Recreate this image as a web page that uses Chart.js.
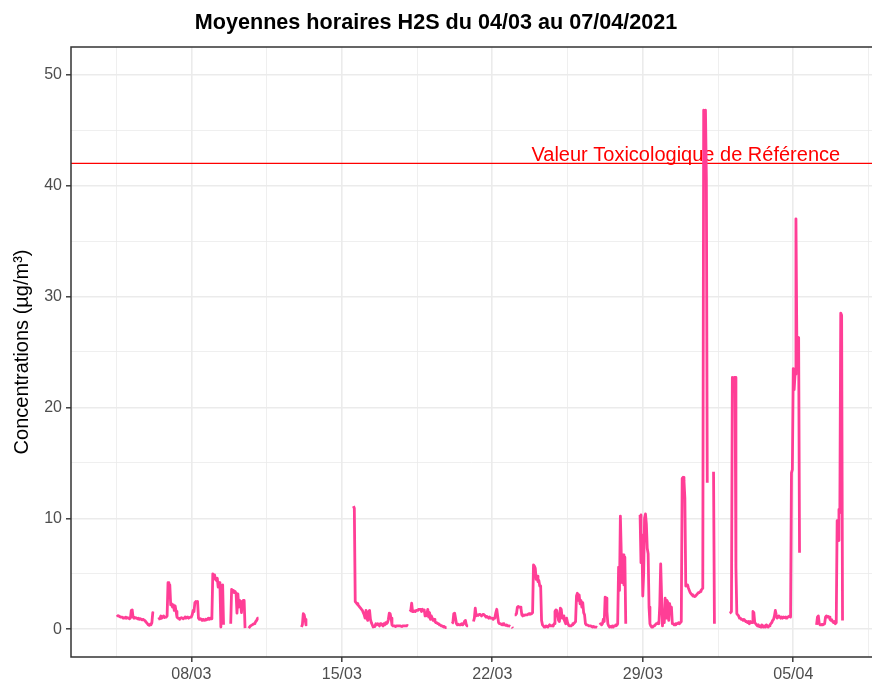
<!DOCTYPE html>
<html><head><meta charset="utf-8">
<script src="https://cdn.jsdelivr.net/npm/chart.js@4.4.1/dist/chart.umd.min.js"></script>
<style>html,body{margin:0;padding:0;background:#fff;}canvas{display:block;}</style>
</head><body>
<canvas id="c" width="872" height="684"></canvas>
<script>
// ---- Données ----
const titre = 'Moyennes horaires H2S du 04/03 au 07/04/2021';
const titreY = 'Concentrations (µg/m³)';
const valeurTox = 42;
const libelleTox = 'Valeur Toxicologique de Référence';
// heures comptées depuis le 04/03/2021 00:00
const heuresTicksX = [96, 264, 432, 600, 768];
const etiquettesX = ['08/03', '15/03', '22/03', '29/03', '05/04'];
const heuresMineuresX = [12, 180, 348, 516, 684, 852];
const ticksY = [0, 10, 20, 30, 40, 50];
const ticksMineursY = [5, 15, 25, 35, 45];
const n = null;
// moyennes horaires (µg/m³), une ligne par jour à partir du 04/03/2021 00:00
const valeurs = [
/*04/03*/ n,n,n,n,n,n,n,n,n,n,n,n,n,1.3,1.2,1.2,1.15,1.1,1.1,1.1,1.0,1.05,1.0,1.1,
/*05/03*/ 1.0,1.05,1.0,0.95,1.0,1.7,1.75,1.1,1.0,1.0,1.05,1.0,0.95,1.0,0.9,0.95,0.9,0.85,0.9,0.85,0.8,0.7,0.6,0.5,
/*06/03*/ 0.4,0.35,0.45,0.4,0.6,1.5,1.45,n,n,n,n,0.9,0.95,1.0,1.2,1.0,1.1,1.2,1.05,1.1,1.1,1.2,4.2,4.1,
/*07/03*/ 4.0,2.2,2.3,2.0,2.2,1.7,2.1,1.6,1.1,1.0,1.0,0.9,1.0,1.05,1.0,0.95,1.0,1.1,1.0,1.05,1.1,1.0,1.05,1.1,
/*08/03*/ 1.1,1.3,1.7,1.6,2.4,2.5,2.45,2.5,1.0,0.9,0.95,0.9,0.8,0.9,0.85,0.8,0.9,0.85,0.9,1.0,0.9,1.0,0.95,1.1,
/*09/03*/ 5.0,4.7,4.9,4.5,4.4,4.6,3.8,4.2,3.9,0.2,3.9,4.0,0.4,n,n,n,n,n,n,n,0.5,3.6,3.4,3.5,
/*10/03*/ 3.3,3.4,3.2,1.45,3.2,2.0,2.6,2.5,1.5,2.5,2.6,2.6,0.1,n,n,n,0.1,0.2,0.3,0.35,0.4,0.45,0.5,0.55,
/*11/03*/ 0.7,0.8,1.0,1.0,n,n,n,n,n,n,n,n,n,n,n,n,n,n,n,n,n,n,n,n,
/*12/03*/ n,n,n,n,n,n,n,n,n,n,n,n,n,n,n,n,n,n,n,n,n,n,n,n,
/*13/03*/ n,n,n,0.2,0.4,1.4,1.3,0.9,0.4,0.45,n,n,n,n,n,n,n,n,n,n,n,n,n,n,
/*14/03*/ n,n,n,n,n,n,n,n,n,n,n,n,n,n,n,n,n,n,n,n,n,n,n,n,
/*15/03*/ n,n,n,n,n,n,n,n,n,n,n,n,n,11.1,10.9,2.5,2.4,2.3,2.2,2.1,2.0,1.9,1.8,1.7,
/*16/03*/ 1.5,1.3,1.0,1.7,1.0,0.8,1.6,1.7,0.9,0.6,0.4,0.2,0.25,0.3,0.5,0.4,0.5,0.45,0.3,0.5,0.5,0.4,0.3,0.5,
/*17/03*/ 0.4,0.6,0.5,0.6,0.9,1.45,1.4,1.0,0.4,0.3,0.3,0.3,0.25,0.3,0.3,0.3,0.3,0.3,0.3,0.25,0.3,0.3,0.3,0.3,
/*18/03*/ 0.3,0.35,0.3,n,1.6,1.7,2.35,1.6,1.6,1.65,1.6,1.7,1.7,1.75,1.8,1.8,1.8,1.6,1.8,1.7,1.75,1.2,1.3,1.4,
/*19/03*/ 1.8,1.1,1.5,0.9,1.2,1.0,0.8,0.9,0.7,0.6,0.6,0.5,0.5,0.4,0.4,0.3,0.3,0.25,0.2,0.2,0.15,0.15,n,n,
/*20/03*/ n,n,n,0.5,0.6,1.4,1.45,1.0,0.5,0.4,0.45,0.4,0.4,0.45,0.5,0.4,0.5,0.7,0.8,0.4,0.3,0.3,n,n,
/*21/03*/ n,n,n,0.7,1.0,1.9,1.2,1.3,1.25,1.3,1.35,1.3,1.2,1.3,1.35,1.3,1.2,1.1,1.15,1.1,1.0,1.1,1.0,1.0,
/*22/03*/ 1.0,0.9,1.0,1.1,1.5,1.8,1.2,0.6,0.5,0.5,0.45,0.4,0.5,0.4,0.4,0.35,0.4,0.3,0.3,0.3,0.25,n,0.2,0.1,
/*23/03*/ n,1.3,1.3,1.4,2.0,2.05,2.0,2.0,1.9,1.3,1.2,1.3,1.25,1.3,1.3,1.3,1.35,1.4,1.35,1.4,1.4,1.5,5.8,5.7,
/*24/03*/ 5.5,4.5,4.8,4.3,4.4,3.9,3.9,0.8,0.4,0.3,0.2,0.2,0.3,0.3,0.2,0.3,0.4,0.3,0.3,0.35,0.3,0.5,1.6,1.75,
/*25/03*/ 1.7,1.2,0.8,0.7,1.9,1.8,1.0,1.2,0.9,0.7,0.5,1.0,0.6,0.4,0.3,0.3,0.3,0.4,0.5,0.5,0.6,0.7,3.0,3.25,
/*26/03*/ 2.6,3.1,2.3,2.6,2.0,2.4,1.5,1.3,0.5,0.4,0.4,0.35,0.3,0.3,0.3,0.25,0.2,0.25,0.2,0.2,0.2,0.15,n,n,
/*27/03*/ 0.4,0.5,0.4,0.5,0.9,0.7,2.9,2.8,1.6,0.5,0.3,0.2,0.25,0.2,0.3,0.2,0.3,0.3,0.4,0.35,0.5,5.6,3.5,10.2,
/*28/03*/ 6.8,4.2,6.7,4.0,6.5,0.5,n,n,n,n,n,n,n,n,n,n,n,n,n,n,n,10.3,6.0,8.5,
/*29/03*/ 3.0,5.0,10.0,10.4,9.5,7.3,6.8,2.0,0.5,0.3,0.2,0.2,0.3,0.3,0.4,0.5,0.5,0.6,0.5,2.2,5.9,3.0,0.3,1.7,
/*30/03*/ 0.6,2.8,1.0,2.6,2.4,0.8,2.3,1.5,2.0,0.5,0.5,0.4,0.4,0.5,0.5,0.5,0.6,0.5,0.6,0.7,13.6,13.7,13.4,11.8,
/*31/03*/ 3.9,4.0,4.0,3.7,3.5,3.3,3.2,3.1,3.0,3.0,2.95,3.0,3.1,3.2,3.3,3.3,3.4,3.5,3.6,3.7,46.8,46.7,46.8,40.6,
/*01/04*/ 13.2,n,n,n,n,n,n,14.2,0.5,n,n,n,n,n,n,n,n,n,n,n,n,n,n,n,
/*02/04*/ n,1.45,1.5,1.6,22.7,22.6,22.7,22.7,5.6,1.4,1.3,1.2,1.0,1.0,0.9,0.9,0.8,0.9,0.8,0.7,0.7,0.6,0.7,0.5,
/*03/04*/ 0.7,0.6,0.6,1.6,1.5,0.6,0.5,0.4,0.3,0.4,0.25,0.3,0.2,0.4,0.3,0.2,0.3,0.2,0.4,0.3,0.2,0.3,0.4,0.5,
/*04/04*/ 0.6,0.8,0.9,1.2,1.7,1.3,1.0,1.1,1.2,1.1,1.0,1.1,1.0,1.1,1.05,1.1,1.0,1.1,1.1,1.15,1.2,1.1,14.1,14.4,
/*05/04*/ 23.5,21.6,23.0,37.0,25.8,26.0,26.3,6.9,n,n,n,n,n,n,n,n,n,n,n,n,n,n,n,n,
/*06/04*/ n,n,0.4,1.1,1.2,0.5,0.4,0.4,0.45,0.4,0.45,0.5,1.1,1.2,1.1,1.15,1.1,0.9,0.8,0.85,0.7,0.6,0.7,0.5,
/*07/04*/ 0.6,9.8,8.0,10.8,10.5,28.5,28.3,0.8
];

// ---- Rendu ----
const FONT = "'Liberation Sans', Arial, sans-serif";
const points = valeurs.map((v, i) => ({ x: i, y: v }));
const ticksX = heuresTicksX.concat(heuresMineuresX).sort((a, b) => a - b);
const ticksYTous = ticksY.concat(ticksMineursY).sort((a, b) => a - b);
const estMajeurX = v => heuresTicksX.includes(v);
const estMajeurY = v => ticksY.includes(v);

const cadre = {
  id: 'cadre',
  beforeDatasetsDraw(chart) {
    const { ctx, chartArea: a, scales } = chart;
    const y = scales.y.getPixelForValue(valeurTox);
    ctx.save();
    ctx.strokeStyle = '#FF0000';
    ctx.lineWidth = 1.3;
    ctx.beginPath(); ctx.moveTo(a.left, y); ctx.lineTo(a.right, y); ctx.stroke();
    ctx.fillStyle = '#FF0000';
    ctx.font = '20px ' + FONT;
    ctx.textAlign = 'center';
    ctx.textBaseline = 'alphabetic';
    ctx.fillText(libelleTox, scales.x.getPixelForValue(648), y - 2.6);
    ctx.restore();
  },
  afterDraw(chart) {
    const { ctx, chartArea: a } = chart;
    ctx.save();
    ctx.strokeStyle = '#333333';
    ctx.lineWidth = 1.5;
    ctx.beginPath();
    ctx.moveTo(a.right + 2, a.top); ctx.lineTo(a.left, a.top);
    ctx.lineTo(a.left, a.bottom); ctx.lineTo(a.right + 2, a.bottom);
    ctx.stroke();
    ctx.restore();
  }
};

new Chart(document.getElementById('c'), {
  type: 'line',
  data: {
    datasets: [{
      data: points,
      borderColor: '#FF3E96',
      borderWidth: 2.8,
      pointRadius: 0,
      spanGaps: false,
      tension: 0,
      borderJoinStyle: 'round',
      fill: false
    }]
  },
  options: {
    responsive: false,
    devicePixelRatio: 1,
    animation: false,
    events: [],
    layout: { padding: 0 },
    plugins: {
      legend: { display: false },
      tooltip: { enabled: false },
      title: {
        display: true,
        text: titre,
        color: '#000000',
        font: { family: FONT, size: 21.6, weight: 'bold' },
        padding: { top: 10, bottom: 11 }
      }
    },
    scales: {
      x: {
        type: 'linear',
        min: -38.3,
        max: 855.9,
        afterBuildTicks: s => { s.ticks = ticksX.map(v => ({ value: v })); },
        afterFit: s => { s.height = 27; },
        border: { display: false },
        grid: {
          color: '#EBEBEB',
          lineWidth: c => (c.tick && estMajeurX(c.tick.value)) ? 1.6 : 0.8,
          tickLength: 5,
          tickWidth: 1.4,
          tickColor: c => (c.tick && estMajeurX(c.tick.value)) ? '#333333' : 'rgba(0,0,0,0)'
        },
        ticks: {
          autoSkip: false,
          maxRotation: 0,
          padding: 3,
          color: '#4D4D4D',
          font: { family: FONT, size: 16 },
          callback: v => { const i = heuresTicksX.indexOf(v); return i >= 0 ? etiquettesX[i] : ''; }
        }
      },
      y: {
        min: -2.5,
        max: 52.5,
        afterBuildTicks: s => { s.ticks = ticksYTous.map(v => ({ value: v })); },
        afterFit: s => { s.width = 71; },
        border: { display: false },
        grid: {
          color: '#EBEBEB',
          lineWidth: c => (c.tick && estMajeurY(c.tick.value)) ? 1.6 : 0.8,
          tickLength: 5,
          tickWidth: 1.4,
          tickColor: c => (c.tick && estMajeurY(c.tick.value)) ? '#333333' : 'rgba(0,0,0,0)'
        },
        ticks: {
          autoSkip: false,
          padding: 4,
          color: '#4D4D4D',
          font: { family: FONT, size: 16 },
          callback: v => estMajeurY(v) ? String(v) : ''
        },
        title: {
          display: true,
          text: titreY,
          color: '#000000',
          font: { family: FONT, size: 20 },
          padding: { top: 10, bottom: 0 }
        }
      }
    }
  },
  plugins: [cadre]
});
</script>
</body></html>
